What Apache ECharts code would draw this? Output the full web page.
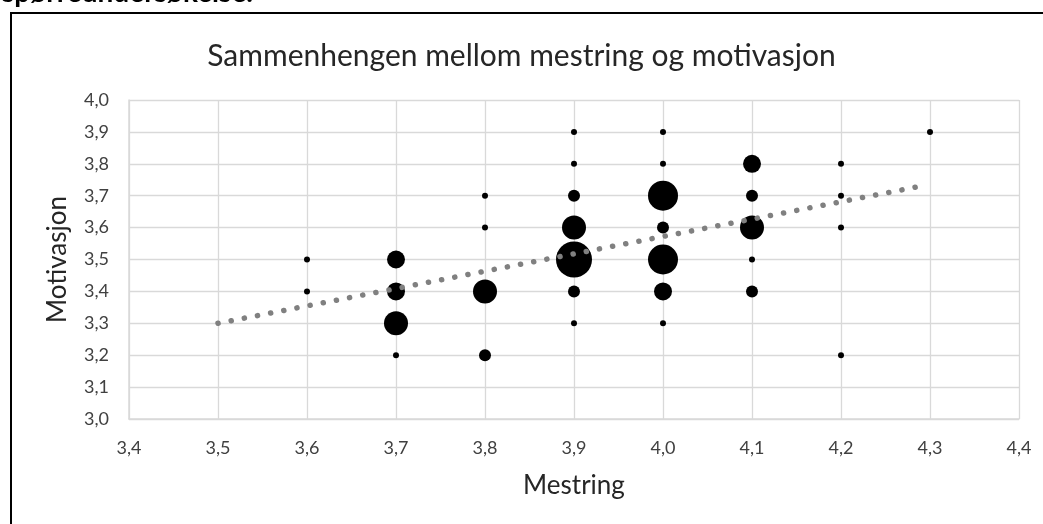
<!DOCTYPE html>
<html>
<head>
<meta charset="utf-8">
<script src="https://cdn.jsdelivr.net/npm/echarts@6/dist/echarts.min.js"></script>
<style>
  html, body { margin: 0; padding: 0; background: #fff; }
  #chart { width: 1043px; height: 524px; }
</style>
</head>
<body>
<div id="chart"></div>
<script>
// mestring (x), motivasjon (y), antall svar (bobleverdi)
var mestring = [3.6, 3.6,
  3.7, 3.7, 3.7, 3.7,
  3.8, 3.8, 3.8, 3.8,
  3.9, 3.9, 3.9, 3.9, 3.9, 3.9, 3.9,
  4.0, 4.0, 4.0, 4.0, 4.0, 4.0, 4.0,
  4.1, 4.1, 4.1, 4.1, 4.1,
  4.2, 4.2, 4.2, 4.2,
  4.3]
var motivasjon = [3.5, 3.4,
  3.5, 3.4, 3.3, 3.2,
  3.7, 3.6, 3.4, 3.2,
  3.9, 3.8, 3.7, 3.6, 3.5, 3.4, 3.3,
  3.9, 3.8, 3.7, 3.6, 3.5, 3.4, 3.3,
  3.8, 3.7, 3.6, 3.5, 3.4,
  3.8, 3.7, 3.6, 3.2,
  3.9]
var antall = [1, 1,
  3, 3, 4, 1,
  1, 1, 4, 2,
  1, 1, 2, 4, 6, 2, 1,
  1, 1, 5, 2, 5, 3, 1,
  3, 2, 4, 1, 2,
  1, 1, 1, 1,
  1]

// trendlinje (lineær), lest av figuren
var trendX = [3.5, 4.29]
var trendY = [3.3, 3.73]

var bobler = mestring.map(function (x, i) {
  return [x, motivasjon[i], antall[i]]
})
var trend = trendX.map(function (x, i) {
  return [x, trendY[i]]
})

function komma (v) {
  return v.toFixed(1).replace('.', ',')
}

var font = 'Lato, "Open Sans", sans-serif'
var chart = echarts.init(document.getElementById('chart'))
chart.setOption({
  animation: false,
  backgroundColor: '#fff',
  title: {
    text: 'Sammenhengen mellom mestring og motivasjon',
    left: 'center',
    top: 36,
    textStyle: { fontFamily: font, fontSize: 30, fontWeight: 'normal', color: '#262626' }
  },
  graphic: [
    {
      type: 'rect',
      shape: { x: 11, y: 13, width: 1040, height: 520 },
      style: { fill: 'none', stroke: '#000', lineWidth: 2 },
      silent: true
    },
    {
      type: 'text',
      left: 2,
      top: -21,
      style: { text: 'spørreundersøkelse.', font: 'bold 28px ' + font, fill: '#000' },
      silent: true
    }
  ],
  grid: { left: 129, top: 100, right: 24, bottom: 105 },
  xAxis: {
    type: 'value',
    min: 3.4,
    max: 4.4,
    interval: 0.1,
    name: 'Mestring',
    nameLocation: 'middle',
    nameGap: 54,
    nameTextStyle: { fontFamily: font, fontSize: 26, color: '#262626' },
    axisLine: { show: true, lineStyle: { color: '#d9d9d9', width: 1.5 } },
    axisTick: { show: false },
    axisLabel: { margin: 20, fontFamily: font, fontSize: 18, color: '#404040', formatter: komma },
    splitLine: { show: true, lineStyle: { color: '#d9d9d9', width: 1.3 } }
  },
  yAxis: {
    type: 'value',
    min: 3.0,
    max: 4.0,
    interval: 0.1,
    name: 'Motivasjon',
    nameLocation: 'middle',
    nameGap: 58,
    nameTextStyle: { fontFamily: font, fontSize: 26, color: '#262626' },
    axisLine: { show: true, lineStyle: { color: '#d9d9d9', width: 1.5 } },
    axisTick: { show: false },
    axisLabel: { margin: 20, fontFamily: font, fontSize: 18, color: '#404040', formatter: komma },
    splitLine: { show: true, lineStyle: { color: '#d9d9d9', width: 1.3 } }
  },
  series: [
    {
      name: 'Antall',
      type: 'scatter',
      data: bobler,
      symbolSize: function (d) { return 6 * d[2] },
      itemStyle: { color: '#000', opacity: 1 },
      z: 2
    },
    {
      name: 'Lineær trend',
      type: 'line',
      data: trend,
      symbol: 'none',
      lineStyle: { color: '#808080', width: 5.5, type: [0.1, 13.3], cap: 'round' },
      z: 3
    }
  ]
})
</script>
</body>
</html>
